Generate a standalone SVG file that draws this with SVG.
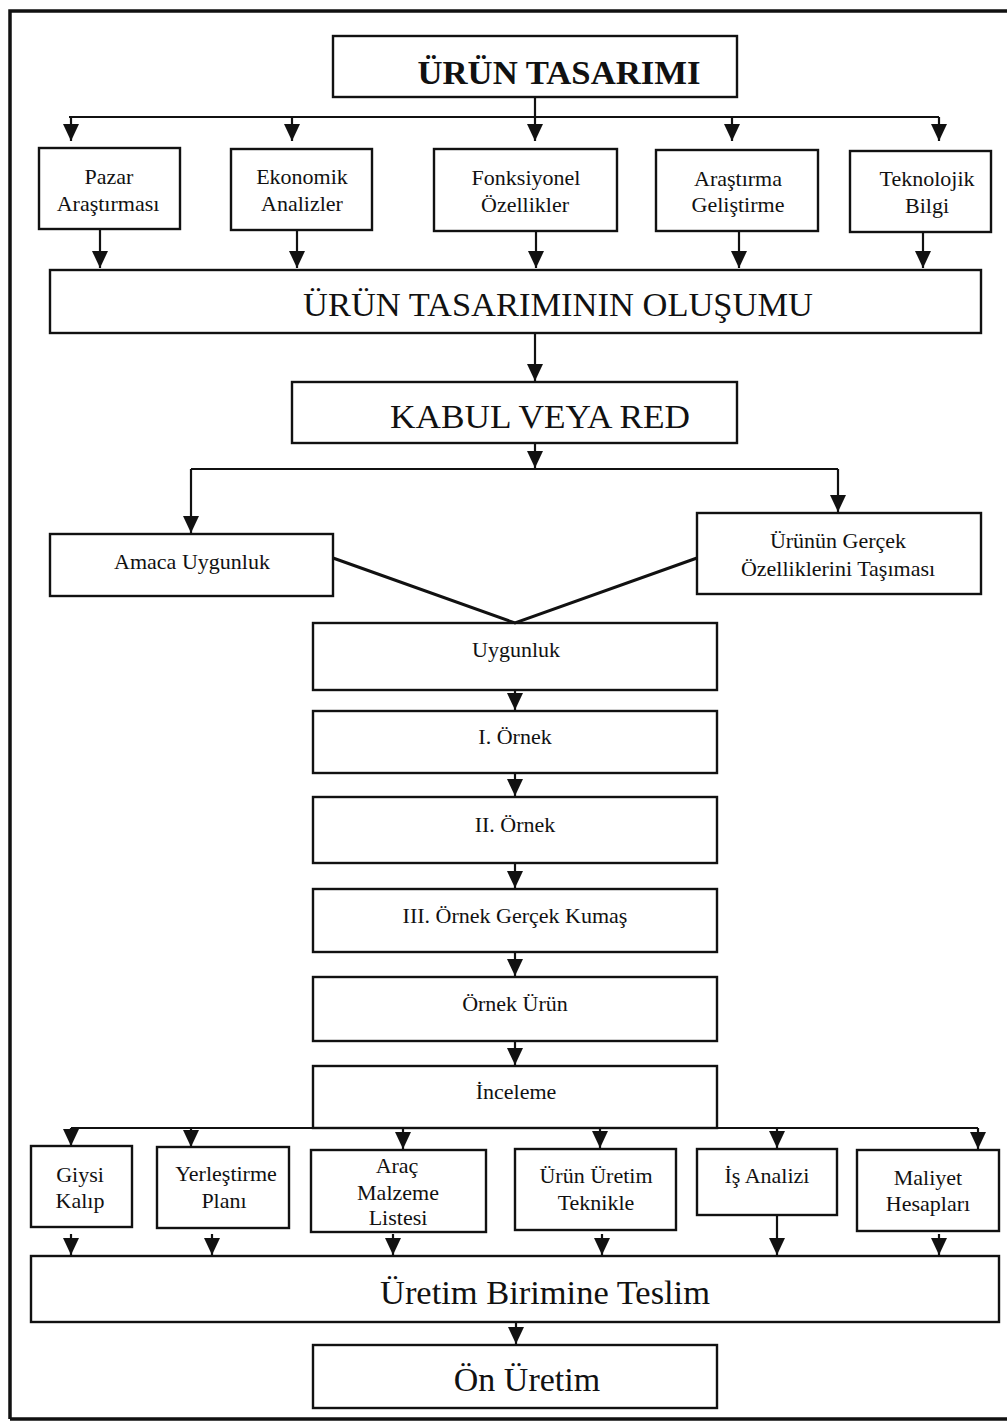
<svg xmlns="http://www.w3.org/2000/svg" width="1007" height="1423" viewBox="0 0 1007 1423">
<style>
.box{fill:none;stroke:#111;stroke-width:2.4}
.ln{fill:none;stroke:#111;stroke-width:2.2}
.ar{fill:none;stroke:#111;stroke-width:2.2;marker-end:url(#ah)}
text{font-family:"Liberation Serif","Times New Roman",serif;fill:#111;text-anchor:middle}
.s{font-size:22px}
.b{font-size:34px}
.t{font-size:34px;font-weight:bold}
</style>
<defs>
<marker id="ah" viewBox="0 0 17 16" refX="17" refY="8" markerWidth="17" markerHeight="16" markerUnits="userSpaceOnUse" orient="auto">
<path d="M0,0 L17,8 L0,16 z" fill="#111"/>
</marker>
</defs>
<rect width="1007" height="1423" fill="#fff"/>
<g id="frame">
<path d="M10,1419 L10,11 L1007,11 M10,1419 L1007,1419" fill="none" stroke="#111" stroke-width="3.5"/>
</g>
<g id="connectors">
<path class="ln" d="M535,98 L535,117 M69,117 L939,117"/>
<path class="ar" d="M71,117 L71,141"/>
<path class="ar" d="M292,117 L292,141"/>
<path class="ar" d="M535,117 L535,141"/>
<path class="ar" d="M732,117 L732,141"/>
<path class="ar" d="M939,117 L939,141"/>
<path class="ar" d="M100,230 L100,268"/>
<path class="ar" d="M297,230 L297,268"/>
<path class="ar" d="M536,231 L536,268"/>
<path class="ar" d="M739,231 L739,268"/>
<path class="ar" d="M923,232 L923,268"/>
<path class="ar" d="M535,333 L535,381"/>
<path class="ar" d="M535,443 L535,468"/>
<path class="ln" d="M191,469 L838,469"/>
<path class="ar" d="M191,469 L191,533"/>
<path class="ar" d="M838,469 L838,512"/>
<path class="ln" style="stroke-width:3" d="M333,558 L515,623 L697,558"/>
<path class="ar" d="M515,690 L515,710"/>
<path class="ar" d="M515,773 L515,796"/>
<path class="ar" d="M515,863 L515,888"/>
<path class="ar" d="M515,952 L515,976"/>
<path class="ar" d="M515,1041 L515,1065"/>
<path class="ln" d="M71,1128 L978,1128"/>
<path class="ar" d="M71,1128 L71,1146"/>
<path class="ar" d="M191,1128 L191,1147"/>
<path class="ar" d="M403,1128 L403,1149"/>
<path class="ar" d="M600,1128 L600,1148"/>
<path class="ar" d="M777,1128 L777,1148"/>
<path class="ar" d="M978,1128 L978,1149"/>
<path class="ar" d="M71,1234 L71,1255"/>
<path class="ar" d="M212,1234 L212,1255"/>
<path class="ar" d="M393,1234 L393,1255"/>
<path class="ar" d="M602,1234 L602,1255"/>
<path class="ar" d="M777,1215 L777,1255"/>
<path class="ar" d="M939,1234 L939,1255"/>
<path class="ar" d="M516,1322 L516,1344"/>
</g>
<g id="n-urun-tasarimi"><rect class="box" x="333" y="36" width="404" height="61"/><text class="t" x="559" y="84" textLength="283" lengthAdjust="spacingAndGlyphs">ÜRÜN TASARIMI</text></g>
<g id="n-pazar"><rect class="box" x="39" y="148" width="141" height="81"/><text class="s" x="109" y="184">Pazar</text><text class="s" x="108" y="211">Araştırması</text></g>
<g id="n-ekonomik"><rect class="box" x="231" y="149" width="141" height="81"/><text class="s" x="302" y="184">Ekonomik</text><text class="s" x="302" y="211">Analizler</text></g>
<g id="n-fonksiyonel"><rect class="box" x="434" y="149" width="183" height="82"/><text class="s" x="526" y="185">Fonksiyonel</text><text class="s" x="525" y="212">Özellikler</text></g>
<g id="n-arastirma"><rect class="box" x="656" y="150" width="162" height="81"/><text class="s" x="738" y="186">Araştırma</text><text class="s" x="738" y="212">Geliştirme</text></g>
<g id="n-teknolojik"><rect class="box" x="850" y="151" width="141" height="81"/><text class="s" x="927" y="186">Teknolojik</text><text class="s" x="927" y="213">Bilgi</text></g>
<g id="n-olusumu"><rect class="box" x="50" y="270" width="931" height="63"/><text class="b" x="558" y="316" textLength="510" lengthAdjust="spacingAndGlyphs">ÜRÜN TASARIMININ OLUŞUMU</text></g>
<g id="n-kabul"><rect class="box" x="292" y="382" width="445" height="61"/><text class="b" x="540" y="428" textLength="300" lengthAdjust="spacingAndGlyphs">KABUL VEYA RED</text></g>
<g id="n-amaca"><rect class="box" x="50" y="534" width="283" height="62"/><text class="s" x="192" y="569">Amaca Uygunluk</text></g>
<g id="n-gercek"><rect class="box" x="697" y="513" width="284" height="81"/><text class="s" x="838" y="548">Ürünün Gerçek</text><text class="s" x="838" y="576">Özelliklerini Taşıması</text></g>
<g id="n-uygunluk"><rect class="box" x="313" y="623" width="404" height="67"/><text class="s" x="516" y="657">Uygunluk</text></g>
<g id="n-ornek1"><rect class="box" x="313" y="711" width="404" height="62"/><text class="s" x="515" y="744">I. Örnek</text></g>
<g id="n-ornek2"><rect class="box" x="313" y="797" width="404" height="66"/><text class="s" x="515" y="832">II. Örnek</text></g>
<g id="n-ornek3"><rect class="box" x="313" y="889" width="404" height="63"/><text class="s" x="515" y="923">III. Örnek Gerçek Kumaş</text></g>
<g id="n-ornek-urun"><rect class="box" x="313" y="977" width="404" height="64"/><text class="s" x="515" y="1011">Örnek Ürün</text></g>
<g id="n-inceleme"><rect class="box" x="313" y="1066" width="404" height="62"/><text class="s" x="516" y="1099">İnceleme</text></g>
<g id="n-giysi"><rect class="box" x="31" y="1146" width="101" height="81"/><text class="s" x="80" y="1182">Giysi</text><text class="s" x="80" y="1208">Kalıp</text></g>
<g id="n-yerlestirme"><rect class="box" x="157" y="1147" width="132" height="81"/><text class="s" x="226" y="1181">Yerleştirme</text><text class="s" x="224" y="1208">Planı</text></g>
<g id="n-arac"><rect class="box" x="311" y="1150" width="175" height="82"/><text class="s" x="397" y="1173">Araç</text><text class="s" x="398" y="1200">Malzeme</text><text class="s" x="398" y="1225">Listesi</text></g>
<g id="n-uretim-teknik"><rect class="box" x="515" y="1149" width="161" height="81"/><text class="s" x="596" y="1183">Ürün Üretim</text><text class="s" x="596" y="1210">Teknikle</text></g>
<g id="n-is-analizi"><rect class="box" x="697" y="1149" width="140" height="66"/><text class="s" x="767" y="1183">İş Analizi</text></g>
<g id="n-maliyet"><rect class="box" x="857" y="1150" width="142" height="81"/><text class="s" x="928" y="1185">Maliyet</text><text class="s" x="928" y="1211">Hesapları</text></g>
<g id="n-teslim"><rect class="box" x="31" y="1256" width="968" height="66"/><text class="b" x="545" y="1304" textLength="330" lengthAdjust="spacingAndGlyphs">Üretim Birimine Teslim</text></g>
<g id="n-on-uretim"><rect class="box" x="313" y="1345" width="404" height="63"/><text class="b" x="527" y="1391">Ön Üretim</text></g>
</svg>
